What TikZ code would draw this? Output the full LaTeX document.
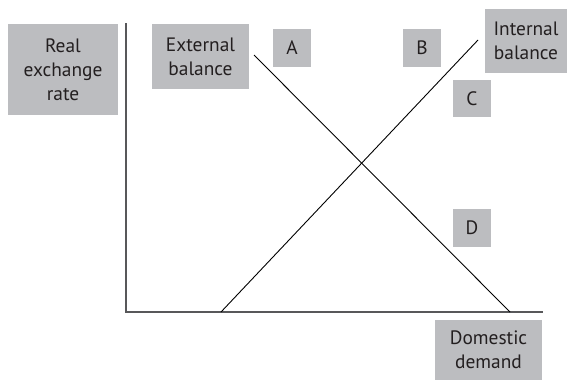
\documentclass[tikz,border=0pt]{standalone}
\usepackage{fontspec}
\setmainfont{PT Sans}
\definecolor{boxgray}{HTML}{BCBDC0}
\definecolor{inkgray}{HTML}{231F20}
\definecolor{axisgray}{HTML}{58585A}
\begin{document}
\begin{tikzpicture}[x=1pt,y=-1pt,
  lab/.style={fill=boxgray,text=inkgray,inner sep=0pt,align=center,
    font=\fontsize{19.4}{24}\selectfont},
  axis/.style={draw=axisgray,line width=1.6pt},
  curve/.style={draw=black,line width=0.9pt}]
\useasboundingbox (0,0) rectangle (570,381);
% labels
\node[lab,minimum width=110pt,minimum height=91pt] (rer) at (63,69.5) {Real\\exchange\\rate};
\node[lab,minimum width=97pt,minimum height=65pt] (ext) at (200.5,56.5) {External\\balance};
\node[lab,minimum width=82pt,minimum height=64pt] (int) at (526,41) {Internal\\balance};
\node[lab,minimum width=107pt,minimum height=60pt] (dd) at (488.5,350) {Domestic\\demand};
\node[lab,minimum width=38pt,minimum height=38pt] (A) at (292,48) {A};
\node[lab,minimum width=38pt,minimum height=38pt] (B) at (422,48) {B};
\node[lab,minimum width=38pt,minimum height=37pt] (C) at (472,98.5) {C};
\node[lab,minimum width=38pt,minimum height=38pt] (D) at (472,228) {D};
% axes
\coordinate (ytop) at (126,23);
\coordinate (o) at (126,312);
\coordinate (xend) at (543,312);
\draw[axis] (ytop) -- (o) -- (xend);
% balance schedules
\coordinate (e1) at (254,55);
\coordinate (e2) at (510,312);
\coordinate (i1) at (221,312);
\coordinate (i2) at (478,40);
\draw[curve] (e1) -- (e2);
\draw[curve] (i1) -- (i2);
\end{tikzpicture}
\end{document}
